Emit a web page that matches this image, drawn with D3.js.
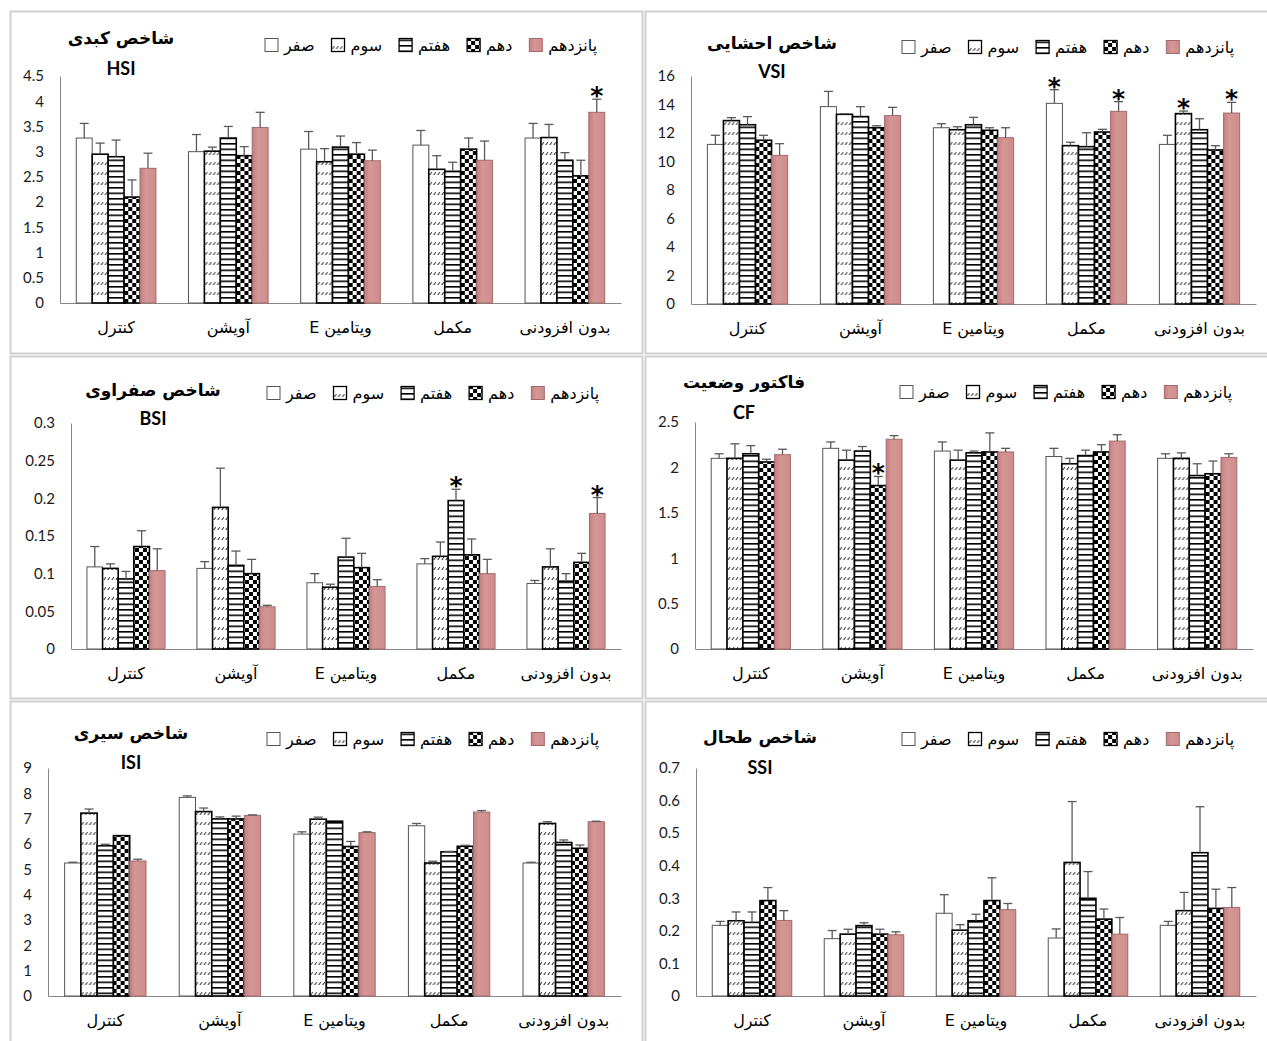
<!DOCTYPE html>
<html>
<head>
<meta charset="utf-8">
<script src="https://cdn.jsdelivr.net/npm/d3@7"></script>
<style>
    body { margin: 0; background: #fff; }
    svg { display: block; }
</style>
</head>
<body>
<div id="chart"></div>
<script>
// groups and sampling days
var categories = ["کنترل", "آویشن", "ویتامین E", "مکمل", "بدون افزودنی"];
var seriesNames = ["صفر", "سوم", "هفتم", "دهم", "پانزدهم"];

// HSI (rows = categories, cols = series)
var hsiMeans = [
    [3.27, 2.95, 2.90, 2.10, 2.67],
    [3.00, 3.01, 3.27, 2.92, 3.48],
    [3.05, 2.80, 3.09, 2.95, 2.82],
    [3.13, 2.65, 2.61, 3.05, 2.83],
    [3.27, 3.28, 2.83, 2.52, 3.78]
];
var hsiErrors = [
    [0.29, 0.22, 0.33, 0.34, 0.30],
    [0.34, 0.08, 0.23, 0.18, 0.30],
    [0.35, 0.26, 0.22, 0.23, 0.21],
    [0.29, 0.27, 0.18, 0.22, 0.38],
    [0.29, 0.26, 0.15, 0.31, 0.26]
];
var hsiStars = [[4, 4]];
var hsiTicks = [0, 0.5, 1, 1.5, 2, 2.5, 3, 3.5, 4, 4.5];

// VSI
var vsiMeans = [
    [11.20, 12.87, 12.58, 11.49, 10.43],
    [13.85, 13.31, 13.15, 12.37, 13.22],
    [12.37, 12.23, 12.58, 12.19, 11.67],
    [14.08, 11.11, 11.04, 12.07, 13.52],
    [11.20, 13.36, 12.23, 10.81, 13.40]
];
var vsiErrors = [
    [0.64, 0.21, 0.57, 0.35, 0.82],
    [1.07, 0.05, 0.70, 0.14, 0.58],
    [0.28, 0.21, 0.52, 0.18, 0.70],
    [0.96, 0.24, 0.98, 0.19, 0.68],
    [0.64, 0.18, 0.77, 0.30, 0.75]
];
var vsiStars = [[3, 0], [3, 4], [4, 1], [4, 4]];
var vsiTicks = [0, 2, 4, 6, 8, 10, 12, 14, 16];

// BSI
var bsiMeans = [
    [0.109, 0.107, 0.093, 0.136, 0.104],
    [0.107, 0.188, 0.111, 0.100, 0.056],
    [0.088, 0.082, 0.122, 0.108, 0.083],
    [0.113, 0.123, 0.197, 0.125, 0.100],
    [0.087, 0.109, 0.090, 0.115, 0.180]
];
var bsiErrors = [
    [0.027, 0.006, 0.010, 0.021, 0.029],
    [0.009, 0.052, 0.019, 0.019, 0.002],
    [0.012, 0.004, 0.025, 0.019, 0.009],
    [0.007, 0.019, 0.015, 0.021, 0.019],
    [0.004, 0.024, 0.010, 0.012, 0.021]
];
var bsiStars = [[3, 2], [4, 4]];
var bsiTicks = [0, 0.05, 0.1, 0.15, 0.2, 0.25, 0.3];

// CF
var cfMeans = [
    [2.10, 2.10, 2.15, 2.06, 2.14],
    [2.21, 2.08, 2.18, 1.80, 2.31],
    [2.18, 2.08, 2.16, 2.17, 2.17],
    [2.12, 2.04, 2.13, 2.17, 2.29],
    [2.10, 2.10, 1.91, 1.93, 2.11]
];
var cfErrors = [
    [0.05, 0.16, 0.09, 0.03, 0.06],
    [0.07, 0.11, 0.05, 0.10, 0.04],
    [0.10, 0.11, 0.02, 0.21, 0.04],
    [0.09, 0.06, 0.06, 0.08, 0.07],
    [0.05, 0.06, 0.13, 0.14, 0.04]
];
var cfStars = [[1, 3]];
var cfTicks = [0, 0.5, 1, 1.5, 2, 2.5];

// ISI
var isiMeans = [
    [5.25, 7.22, 5.93, 6.33, 5.33],
    [7.84, 7.28, 6.99, 6.99, 7.13],
    [6.39, 6.98, 6.90, 5.90, 6.45],
    [6.72, 5.25, 5.69, 5.91, 7.26],
    [5.25, 6.81, 6.06, 5.83, 6.88]
];
var isiErrors = [
    [0.03, 0.16, 0.06, 0.00, 0.07],
    [0.06, 0.14, 0.08, 0.11, 0.02],
    [0.09, 0.08, 0.00, 0.20, 0.03],
    [0.09, 0.07, 0.02, 0.04, 0.06],
    [0.03, 0.07, 0.10, 0.13, 0.02]
];
var isiStars = [];
var isiTicks = [0, 1, 2, 3, 4, 5, 6, 7, 8, 9];

// SSI
var ssiMeans = [
    [0.217, 0.231, 0.226, 0.293, 0.232],
    [0.176, 0.190, 0.216, 0.190, 0.188],
    [0.254, 0.202, 0.231, 0.293, 0.265],
    [0.178, 0.410, 0.300, 0.236, 0.190],
    [0.217, 0.262, 0.440, 0.269, 0.272]
];
var ssiErrors = [
    [0.012, 0.027, 0.032, 0.040, 0.030],
    [0.025, 0.015, 0.009, 0.015, 0.009],
    [0.057, 0.017, 0.020, 0.070, 0.019],
    [0.028, 0.187, 0.082, 0.031, 0.051],
    [0.012, 0.056, 0.141, 0.059, 0.061]
];
var ssiStars = [];
var ssiTicks = [0, 0.1, 0.2, 0.3, 0.4, 0.5, 0.6, 0.7];

var arabicFont = "'DejaVu Sans', sans-serif";
var numFont = "Lato, 'Open Sans', sans-serif";

var seriesFill = ["#ffffff", "url(#pat-dash)", "url(#pat-stripe)", "url(#pat-check)", "url(#grad-pink)"];
var seriesStroke = ["#555555", "#000000", "#000000", "#000000", "#a46a6a"];
var seriesStrokeW = [1, 1.6, 1.6, 1.6, 1];

var svg = d3.select("#chart")
    .append("svg")
    .attr("width", 1267)
    .attr("height", 1041);

// fill patterns
var defs = svg.append("defs");

var dash = defs.append("pattern")
    .attr("id", "pat-dash")
    .attr("patternUnits", "userSpaceOnUse")
    .attr("width", 4)
    .attr("height", 10);
dash.append("rect").attr("width", 4).attr("height", 10).attr("fill", "#fff");
dash.append("path")
    .attr("d", "M0.8,4 L2.8,1.2")
    .attr("stroke", "#000")
    .attr("stroke-width", 1);

var stripe = defs.append("pattern")
    .attr("id", "pat-stripe")
    .attr("patternUnits", "userSpaceOnUse")
    .attr("width", 6)
    .attr("height", 5.5);
stripe.append("rect").attr("width", 6).attr("height", 5.5).attr("fill", "#fff");
stripe.append("rect").attr("width", 6).attr("height", 1.6).attr("fill", "#000");

var check = defs.append("pattern")
    .attr("id", "pat-check")
    .attr("patternUnits", "userSpaceOnUse")
    .attr("width", 8)
    .attr("height", 8);
check.append("rect").attr("width", 8).attr("height", 8).attr("fill", "#fff");
check.append("rect").attr("width", 4).attr("height", 4).attr("fill", "#000");
check.append("rect").attr("x", 4).attr("y", 4).attr("width", 4).attr("height", 4).attr("fill", "#000");

var pink = defs.append("linearGradient")
    .attr("id", "grad-pink")
    .attr("x1", "0%").attr("x2", "100%")
    .attr("y1", "0%").attr("y2", "0%");
pink.append("stop").attr("offset", "0%").attr("stop-color", "#c47f7f");
pink.append("stop").attr("offset", "35%").attr("stop-color", "#d49696");
pink.append("stop").attr("offset", "100%").attr("stop-color", "#cf8d8d");

var panels = [
    { x: 10, y: 11, w: 632, h: 342, left: 50, right: 611, top: 65, bottom: 292,
      title: "شاخص کبدی", sub: "HSI", tx: 111, ty: 27, sy: 57, lx: 255, ly: 34,
      means: hsiMeans, errors: hsiErrors, stars: hsiStars, ticks: hsiTicks },
    { x: 645, y: 11, w: 630, h: 342, left: 46, right: 611, top: 65, bottom: 293,
      title: "شاخص احشایی", sub: "VSI", tx: 127, ty: 32, sy: 60, lx: 257, ly: 36,
      means: vsiMeans, errors: vsiErrors, stars: vsiStars, ticks: vsiTicks },
    { x: 10, y: 356, w: 632, h: 342, left: 61, right: 611, top: 67, bottom: 293,
      title: "شاخص صفراوی", sub: "BSI", tx: 143, ty: 34, sy: 62, lx: 257, ly: 37,
      means: bsiMeans, errors: bsiErrors, stars: bsiStars, ticks: bsiTicks },
    { x: 645, y: 356, w: 630, h: 342, left: 50, right: 608, top: 66, bottom: 293,
      title: "فاکتور وضعیت", sub: "CF", tx: 99, ty: 26, sy: 56, lx: 255, ly: 36,
      means: cfMeans, errors: cfErrors, stars: cfStars, ticks: cfTicks },
    { x: 10, y: 701, w: 632, h: 350, left: 38, right: 611, top: 67, bottom: 295,
      title: "شاخص سیری", sub: "ISI", tx: 121, ty: 32, sy: 61, lx: 257, ly: 38,
      means: isiMeans, errors: isiErrors, stars: isiStars, ticks: isiTicks },
    { x: 645, y: 701, w: 630, h: 350, left: 51, right: 611, top: 67, bottom: 295,
      title: "شاخص طحال", sub: "SSI", tx: 115, ty: 36, sy: 66, lx: 257, ly: 38,
      means: ssiMeans, errors: ssiErrors, stars: ssiStars, ticks: ssiTicks }
];

panels.forEach(drawPanel);

function drawPanel(conf) {
    var g = svg.append("g")
        .attr("transform", "translate(" + conf.x + "," + conf.y + ")");

    g.append("rect")
        .attr("x", 0.5)
        .attr("y", 0.5)
        .attr("width", conf.w)
        .attr("height", conf.h)
        .attr("fill", "#fff")
        .attr("stroke", "#d0d0d0")
        .attr("stroke-width", 2);

    var y = d3.scaleLinear()
        .domain([0, d3.max(conf.ticks)])
        .range([conf.bottom, conf.top]);

    var x0 = d3.scaleBand()
        .domain(categories)
        .range([conf.left, conf.right])
        .paddingInner(0.29)
        .paddingOuter(0.145);

    var x1 = d3.scaleBand()
        .domain(seriesNames)
        .range([0, x0.bandwidth()]);

    // axes
    var yAxis = g.append("g")
        .attr("class", "y axis")
        .attr("transform", "translate(" + conf.left + ",0)")
        .call(d3.axisLeft(y)
            .tickValues(conf.ticks)
            .tickSize(0)
            .tickPadding(16)
            .tickFormat(d3.format("~g")));
    yAxis.select(".domain").attr("stroke", "#868686");
    yAxis.selectAll("text")
        .attr("font-family", numFont)
        .attr("font-size", "15px")
        .attr("fill", "#1a1a1a");

    var xAxis = g.append("g")
        .attr("class", "x axis")
        .attr("transform", "translate(0," + conf.bottom + ")")
        .call(d3.axisBottom(x0).tickSize(0).tickPadding(19));
    xAxis.select(".domain").attr("stroke", "#868686");
    xAxis.selectAll("text")
        .attr("font-family", arabicFont)
        .attr("font-size", "16px")
        .attr("fill", "#000")
        .attr("direction", "rtl");

    // bars
    var groups = g.selectAll("g.group")
        .data(categories)
        .enter()
        .append("g")
        .attr("class", "group")
        .attr("transform", function (d) {
            return "translate(" + x0(d) + ",0)";
        });

    groups.each(function (cat, ci) {
        var grp = d3.select(this);
        var rows = seriesNames.map(function (s, si) {
            return { s: s, si: si, v: conf.means[ci][si], e: conf.errors[ci][si] };
        });

        grp.selectAll("rect.bar")
            .data(rows)
            .enter()
            .append("rect")
            .attr("class", "bar")
            .attr("x", d => x1(d.s))
            .attr("y", d => y(d.v))
            .attr("width", x1.bandwidth())
            .attr("height", d => conf.bottom - y(d.v))
            .attr("fill", d => seriesFill[d.si])
            .attr("stroke", d => seriesStroke[d.si])
            .attr("stroke-width", d => seriesStrokeW[d.si]);

        var errs = grp.selectAll("g.err")
            .data(rows.filter(d => d.e > 0))
            .enter()
            .append("g")
            .attr("class", "err")
            .attr("stroke", "#595959")
            .attr("stroke-width", 1.3);
        errs.append("line")
            .attr("x1", d => x1(d.s) + x1.bandwidth() / 2)
            .attr("x2", d => x1(d.s) + x1.bandwidth() / 2)
            .attr("y1", d => y(d.v))
            .attr("y2", d => y(d.v + d.e));
        errs.append("line")
            .attr("x1", d => x1(d.s) + x1.bandwidth() / 2 - 4.5)
            .attr("x2", d => x1(d.s) + x1.bandwidth() / 2 + 4.5)
            .attr("y1", d => y(d.v + d.e))
            .attr("y2", d => y(d.v + d.e));
    });

    // significance marks
    g.selectAll("text.star")
        .data(conf.stars)
        .enter()
        .append("text")
        .attr("class", "star")
        .attr("x", d => x0(categories[d[0]]) + x1(seriesNames[d[1]]) + x1.bandwidth() / 2)
        .attr("y", d => y(conf.means[d[0]][d[1]] + conf.errors[d[0]][d[1]]) + 5)
        .attr("text-anchor", "middle")
        .attr("font-family", arabicFont)
        .attr("font-weight", "bold")
        .attr("font-size", "25px")
        .text("*");

    // titles
    g.append("text")
        .attr("x", conf.tx)
        .attr("y", conf.ty)
        .attr("text-anchor", "middle")
        .attr("dominant-baseline", "central")
        .attr("direction", "rtl")
        .attr("font-family", arabicFont)
        .attr("font-weight", "bold")
        .attr("font-size", "17px")
        .text(conf.title);
    g.append("text")
        .attr("x", conf.tx)
        .attr("y", conf.sy)
        .attr("text-anchor", "middle")
        .attr("dominant-baseline", "central")
        .attr("font-family", numFont)
        .attr("font-weight", "bold")
        .attr("font-size", "18px")
        .text(conf.sub);

    // legend
    var legend = g.append("g")
        .attr("class", "legend")
        .attr("transform", "translate(" + conf.lx + "," + conf.ly + ")");
    var cursor = 0;
    seriesNames.forEach(function (s, si) {
        var row = legend.append("g")
            .attr("transform", "translate(" + cursor + ",0)");
        row.append("rect")
            .attr("x", 0)
            .attr("y", -6.5)
            .attr("width", 13)
            .attr("height", 13)
            .attr("fill", seriesFill[si])
            .attr("stroke", seriesStroke[si])
            .attr("stroke-width", si === 0 || si === 4 ? 1 : 1.3);
        var label = row.append("text")
            .attr("x", 19)
            .attr("y", 0)
            .attr("dominant-baseline", "central")
            .attr("font-family", arabicFont)
            .attr("font-size", "16px")
            .text(s);
        cursor += 19 + label.node().getComputedTextLength() + 17;
    });
}
</script>
</body>
</html>
